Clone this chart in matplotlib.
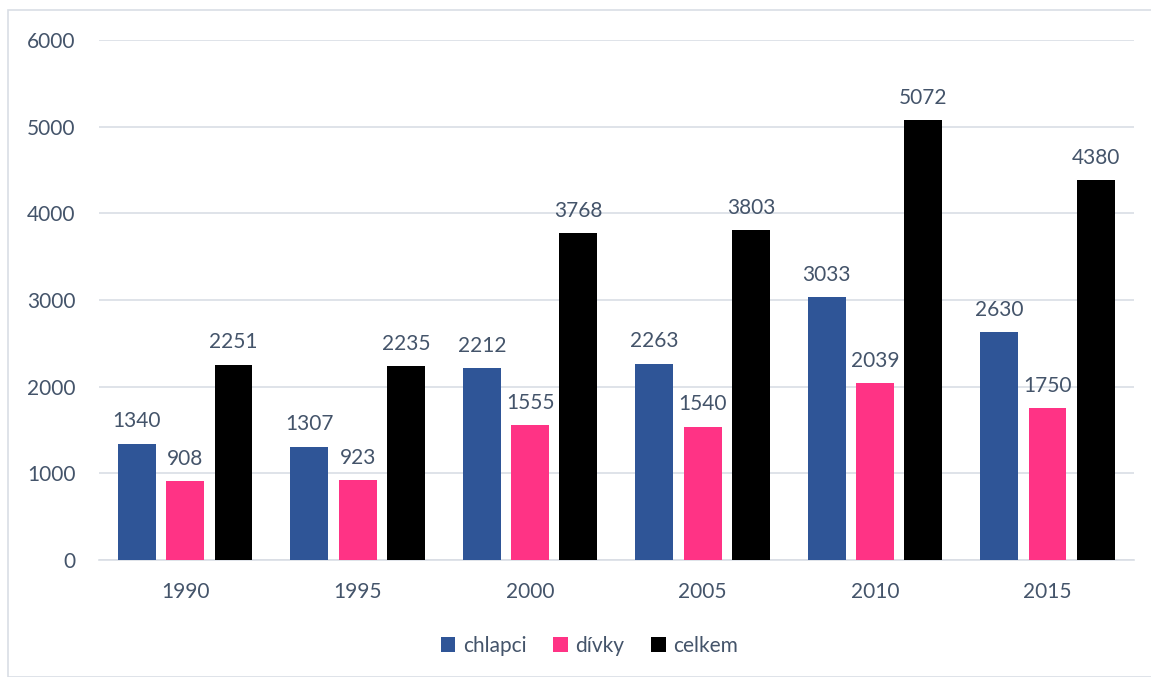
import matplotlib
matplotlib.use("Agg")
import matplotlib.pyplot as plt
import numpy as np
from matplotlib.patches import Rectangle

years = ["1990", "1995", "2000", "2005", "2010", "2015"]
chlapci = [1340, 1307, 2212, 2263, 3033, 2630]
divky = [908, 923, 1555, 1540, 2039, 1750]
celkem = [2251, 2235, 3768, 3803, 5072, 4380]
series_names = ["chlapci", "dívky", "celkem"]
colors = ["#2F5597", "#FF3385", "#000000"]

plt.rcParams['font.family'] = ['Lato', 'DejaVu Sans']
txt = "#44546A"

fig = plt.figure(figsize=(11.51, 6.77), dpi=100)
ax = fig.add_axes([0.086, 0.1728, 0.899, 0.7682])

x = np.arange(len(years))
w = 0.22
step = 0.28
for i, (vals, name, c) in enumerate(zip([chlapci, divky, celkem], series_names, colors)):
    pos = x + (i - 1) * step
    bars = ax.bar(pos, vals, width=w, color=c, label=name, zorder=3)
    for b, v in zip(bars, vals):
        ax.annotate(str(v), (b.get_x() + b.get_width() / 2, v), xytext=(0, 9),
                    textcoords="offset points", ha="center", va="bottom",
                    fontsize=15, color=txt)

ax.set_xlim(-0.5, len(years) - 0.5)
ax.set_ylim(0, 6000)
ax.set_yticks(range(0, 6001, 1000))
ax.set_xticks(x)
ax.set_xticklabels(years)
ax.grid(axis="y", color="#D9DEE5", linewidth=1.2, zorder=0)
for s in ["top", "right", "left"]:
    ax.spines[s].set_visible(False)
ax.spines["bottom"].set_color("#D9DEE5")
ax.spines["bottom"].set_linewidth(1.2)
ax.tick_params(axis="both", length=0, labelsize=15, labelcolor=txt)
ax.tick_params(axis="y", pad=17)
ax.tick_params(axis="x", pad=16)

ax.legend(loc="upper center", bbox_to_anchor=(0.474, -0.11), ncol=3, frameon=False,
          fontsize=15, labelcolor=txt, handlelength=0.7, handleheight=0.7,
          handletextpad=0.35, columnspacing=1.3)

fig.patches.append(Rectangle((8 / 1151, 0.0), 1.0, 1 - 10 / 677, transform=fig.transFigure,
                             fill=False, edgecolor="#D9DEE5", linewidth=1.2))

fig.savefig("out.png", dpi=100)
